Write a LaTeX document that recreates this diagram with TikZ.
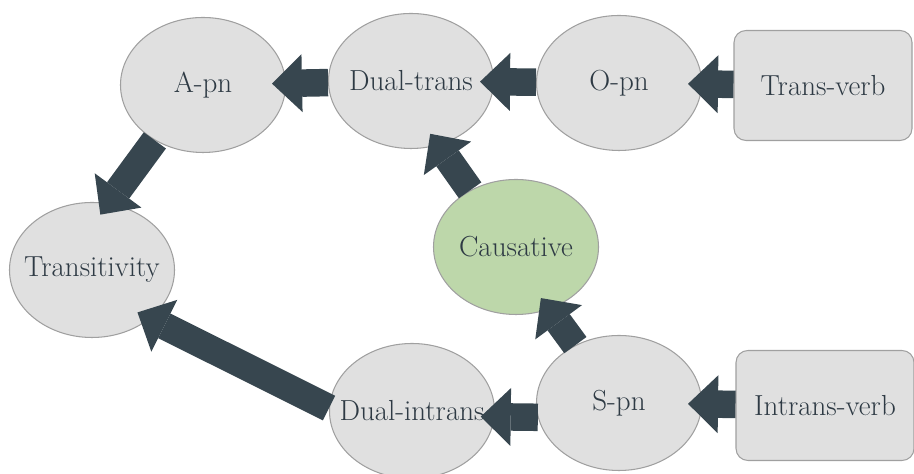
\documentclass[tikz,border=0pt]{standalone}
\usetikzlibrary{arrows.meta,shapes.geometric}
\definecolor{nen}{HTML}{E0E0E0}
\definecolor{vien}{HTML}{A0A0A0}
\definecolor{xanh}{HTML}{BDD7AA}
\definecolor{muiten}{HTML}{37464F}
\definecolor{chu}{HTML}{2E3A44}
\tikzset{
	oval/.style={ellipse,draw=vien,fill=nen,line width=.6pt,minimum width=3.3cm,minimum height=2.7cm,inner xsep=-1.2cm,text=chu,font=\fontsize{16.5}{19}\selectfont},
	hop/.style={rectangle,rounded corners=.24cm,draw=vien,fill=nen,line width=.6pt,minimum width=3.56cm,minimum height=2.2cm,text=chu,font=\fontsize{16.5}{19}\selectfont},
	mui/.style={draw=muiten,line width=.55cm,-{Triangle[length=.6cm,width=1.16cm,line width'=0pt]},shorten >=-.28cm}
}
\begin{document}
\begin{tikzpicture}% so do chuyen tac
	\useasboundingbox (0,0) rectangle (18.28,9.48);
	\path (4.06,7.78) node[oval] (apn) {A-pn};
	\path (8.22,7.86) node[oval] (dtrans) {Dual-trans};
	\path (12.38,7.82) node[oval] (opn) {O-pn};
	\path (16.46,7.77) node[hop] (tverb) {Trans-verb};
	\path (10.32,4.54) node[oval,fill=xanh] (caus) {Causative};
	\path (1.84,4.08) node[oval] (trans) {Transitivity};
	\path (8.24,1.26) node[oval] (dintrans) {Dual-intrans};
	\path (12.38,1.42) node[oval] (spn) {S-pn};
	\path (16.5,1.37) node[hop] (iverb) {Intrans-verb};
	\draw[mui] (tverb) -- (opn);
	\draw[mui] (opn) -- (dtrans);
	\draw[mui] (dtrans) -- (apn);
	\draw[mui] (apn.229) -- (trans.76);
	\draw[mui] (caus.129) -- (dtrans.-67);
	\draw[mui] (spn.127) -- (caus.-62);
	\draw[mui] (iverb) -- (spn);
	\draw[mui] (spn.190) -- (dintrans.-4);
	\draw[mui] (dintrans.178) -- (trans.-40);
\end{tikzpicture}
\end{document}
